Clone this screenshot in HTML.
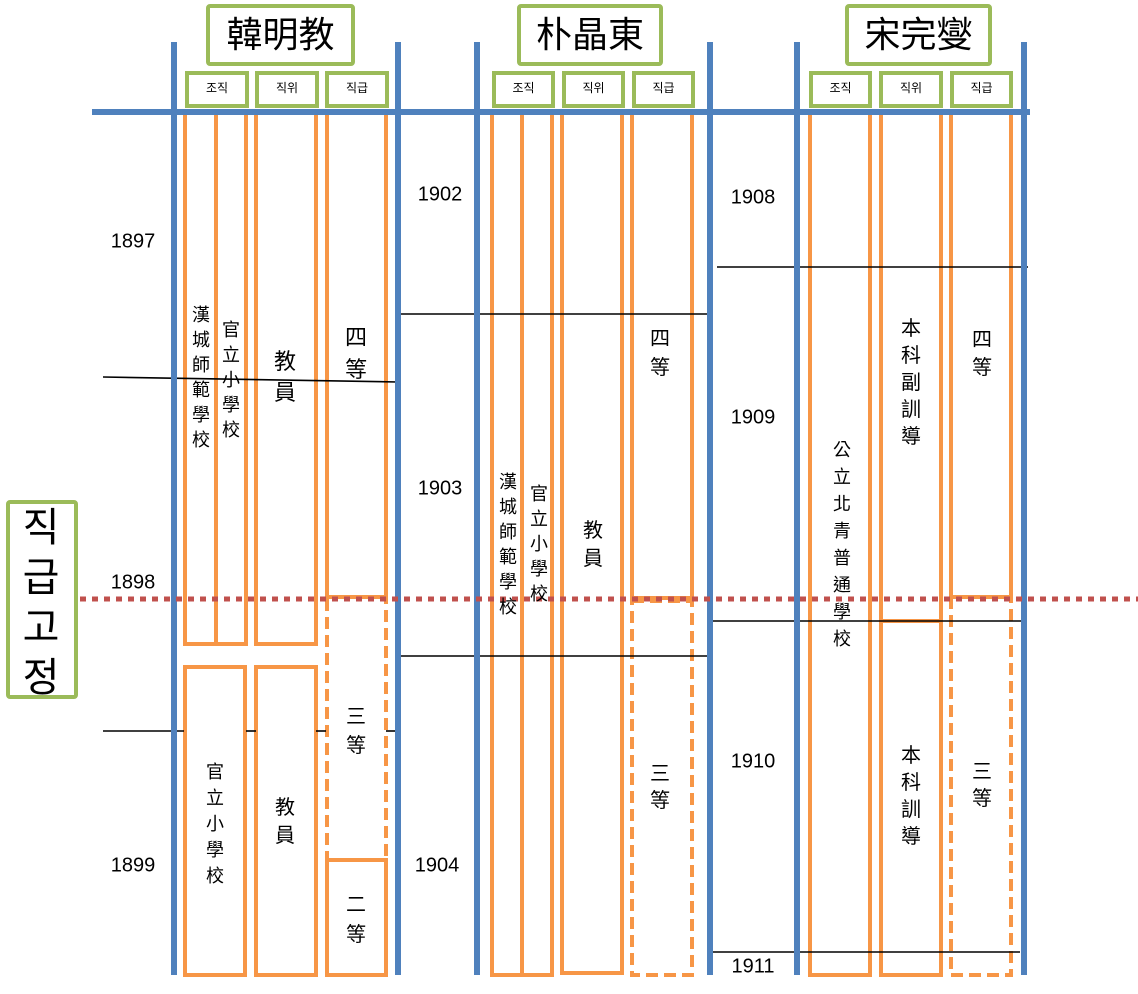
<!DOCTYPE html>
<html><head><meta charset="utf-8"><style>
body{margin:0;width:1138px;height:994px;background:#fff;position:relative;overflow:hidden;font-family:"Liberation Sans","Noto Sans CJK KR",sans-serif;color:#000}
svg{position:absolute;left:0;top:0}
.v{position:absolute;text-align:center;width:40px;font-family:"Liberation Sans","Noto Sans CJK TC",sans-serif}
.y{position:absolute;font-size:20px;transform:translate(-50%,-50%)}
.h{position:absolute;font-size:36px;text-align:center;font-family:"Liberation Sans","Noto Sans CJK TC",sans-serif;line-height:58px}
.s{position:absolute;font-size:12px;text-align:center;line-height:31px;font-family:"Liberation Sans","Noto Sans CJK KR",sans-serif}
</style></head><body>
<svg width="1138" height="994">
<g fill="none" stroke="#9bbb59" stroke-width="4">
<rect x="208" y="6" width="145" height="58" rx="2"/>
<rect x="519" y="6" width="142" height="58" rx="2"/>
<rect x="847" y="6" width="143" height="58" rx="2"/>
<rect x="187" y="73" width="60" height="33"/><rect x="257" y="73" width="60" height="33"/><rect x="327" y="73" width="60" height="33"/>
<rect x="494" y="73" width="59" height="33"/><rect x="564" y="73" width="59" height="33"/><rect x="634" y="73" width="59" height="33"/>
<rect x="811" y="73" width="59" height="33"/><rect x="881" y="73" width="60" height="33"/><rect x="952" y="73" width="59" height="33"/>
<rect x="8" y="502" width="68" height="195" rx="2"/>
</g>
<g fill="none" stroke="#f79646" stroke-width="4">
<rect x="185" y="113" width="61" height="531"/><line x1="216" y1="113" x2="216" y2="644"/>
<rect x="256" y="113" width="60" height="531"/>
<rect x="327" y="113" width="59" height="484"/>
<rect x="327" y="597" width="59" height="263" stroke-dasharray="12,6"/>
<rect x="327" y="860" width="59" height="115"/>
<rect x="185" y="667" width="60" height="308"/>
<rect x="256" y="667" width="60" height="308"/>
<rect x="492" y="113" width="60" height="862"/><line x1="522" y1="113" x2="522" y2="975"/>
<rect x="562" y="113" width="60" height="860"/>
<rect x="632" y="113" width="60" height="485"/>
<rect x="632" y="601" width="60" height="374" stroke-dasharray="12,6"/>
<rect x="810" y="113" width="60" height="862"/>
<rect x="881" y="113" width="60" height="508"/>
<rect x="881" y="621" width="60" height="354"/>
<rect x="951" y="113" width="60" height="484"/>
<rect x="951" y="597" width="60" height="378" stroke-dasharray="12,6"/>
</g>
<g stroke="#000" stroke-width="1.6">
<line x1="103" y1="377" x2="398" y2="382"/>
<line x1="103" y1="731" x2="184" y2="731"/><line x1="246" y1="731" x2="256" y2="731"/><line x1="316" y1="731" x2="326" y2="731"/><line x1="386" y1="731" x2="395" y2="731"/>
<line x1="398" y1="314" x2="707" y2="314"/>
<line x1="398" y1="656" x2="707" y2="656"/>
<line x1="717" y1="267" x2="1028" y2="267"/>
<line x1="712" y1="621" x2="1024" y2="621"/>
<line x1="710" y1="952" x2="1020" y2="952"/>
</g>
<g stroke="#4f81bd" stroke-width="6">
<line x1="92" y1="112" x2="1030" y2="112"/>
<line x1="174" y1="42" x2="174" y2="975"/><line x1="398" y1="42" x2="398" y2="975"/>
<line x1="477" y1="42" x2="477" y2="975"/><line x1="710" y1="42" x2="710" y2="975"/>
<line x1="797" y1="42" x2="797" y2="975"/><line x1="1024" y1="42" x2="1024" y2="975"/>
</g>
<line x1="80" y1="599" x2="1138" y2="599" stroke="#c0504d" stroke-width="5" stroke-dasharray="6,6"/>
</svg>
<div class="h" style="left:208px;top:6px;width:145px">韓明教</div>
<div class="h" style="left:519px;top:6px;width:142px">朴晶東</div>
<div class="h" style="left:847px;top:6px;width:143px">宋完燮</div>
<div class="s" style="left:187px;top:73px;width:60px">조직</div><div class="s" style="left:257px;top:73px;width:60px">직위</div><div class="s" style="left:327px;top:73px;width:60px">직급</div>
<div class="s" style="left:494px;top:73px;width:59px">조직</div><div class="s" style="left:564px;top:73px;width:59px">직위</div><div class="s" style="left:634px;top:73px;width:59px">직급</div>
<div class="s" style="left:811px;top:73px;width:59px">조직</div><div class="s" style="left:881px;top:73px;width:60px">직위</div><div class="s" style="left:952px;top:73px;width:59px">직급</div>
<div class="v" style="left:1px;top:503px;width:80px;font-size:40px;line-height:50px;font-family:'Liberation Sans','Noto Sans CJK KR',sans-serif">직<br>급<br>고<br>정</div>
<div class="y" style="left:133px;top:242px">1897</div>
<div class="y" style="left:133px;top:583px">1898</div>
<div class="y" style="left:133px;top:866px">1899</div>
<div class="y" style="left:440px;top:195px">1902</div>
<div class="y" style="left:440px;top:489px">1903</div>
<div class="y" style="left:437px;top:866px">1904</div>
<div class="y" style="left:753px;top:198px">1908</div>
<div class="y" style="left:753px;top:418px">1909</div>
<div class="y" style="left:753px;top:762px">1910</div>
<div class="y" style="left:753px;top:967px">1911</div>
<div class="v" style="left:181px;top:303px;font-size:18px;line-height:25px">漢<br>城<br>師<br>範<br>學<br>校</div>
<div class="v" style="left:211px;top:318px;font-size:18px;line-height:25px">官<br>立<br>小<br>學<br>校</div>
<div class="v" style="left:265px;top:346px;font-size:22px;line-height:31px">教<br>員</div>
<div class="v" style="left:336px;top:322px;font-size:22px;line-height:32px">四<br>等</div>
<div class="v" style="left:336px;top:703px;font-size:20px;line-height:29px">三<br>等</div>
<div class="v" style="left:336px;top:890px;font-size:20px;line-height:30px">二<br>等</div>
<div class="v" style="left:195px;top:759px;font-size:18px;line-height:26px">官<br>立<br>小<br>學<br>校</div>
<div class="v" style="left:265px;top:794px;font-size:20px;line-height:28px">教<br>員</div>
<div class="v" style="left:488px;top:470px;font-size:18px;line-height:25px">漢<br>城<br>師<br>範<br>學<br>校</div>
<div class="v" style="left:519px;top:482px;font-size:18px;line-height:25px">官<br>立<br>小<br>學<br>校</div>
<div class="v" style="left:573px;top:517px;font-size:20px;line-height:28px">教<br>員</div>
<div class="v" style="left:640px;top:325px;font-size:20px;line-height:29px">四<br>等</div>
<div class="v" style="left:640px;top:761px;font-size:20px;line-height:27px">三<br>等</div>
<div class="v" style="left:822px;top:437px;font-size:18px;line-height:27px">公<br>立<br>北<br>青<br>普<br>通<br>學<br>校</div>
<div class="v" style="left:891px;top:316px;font-size:20px;line-height:27px">本<br>科<br>副<br>訓<br>導</div>
<div class="v" style="left:962px;top:326px;font-size:20px;line-height:28px">四<br>等</div>
<div class="v" style="left:891px;top:743px;font-size:20px;line-height:27px">本<br>科<br>訓<br>導</div>
<div class="v" style="left:962px;top:759px;font-size:20px;line-height:27px">三<br>等</div>
</body></html>
